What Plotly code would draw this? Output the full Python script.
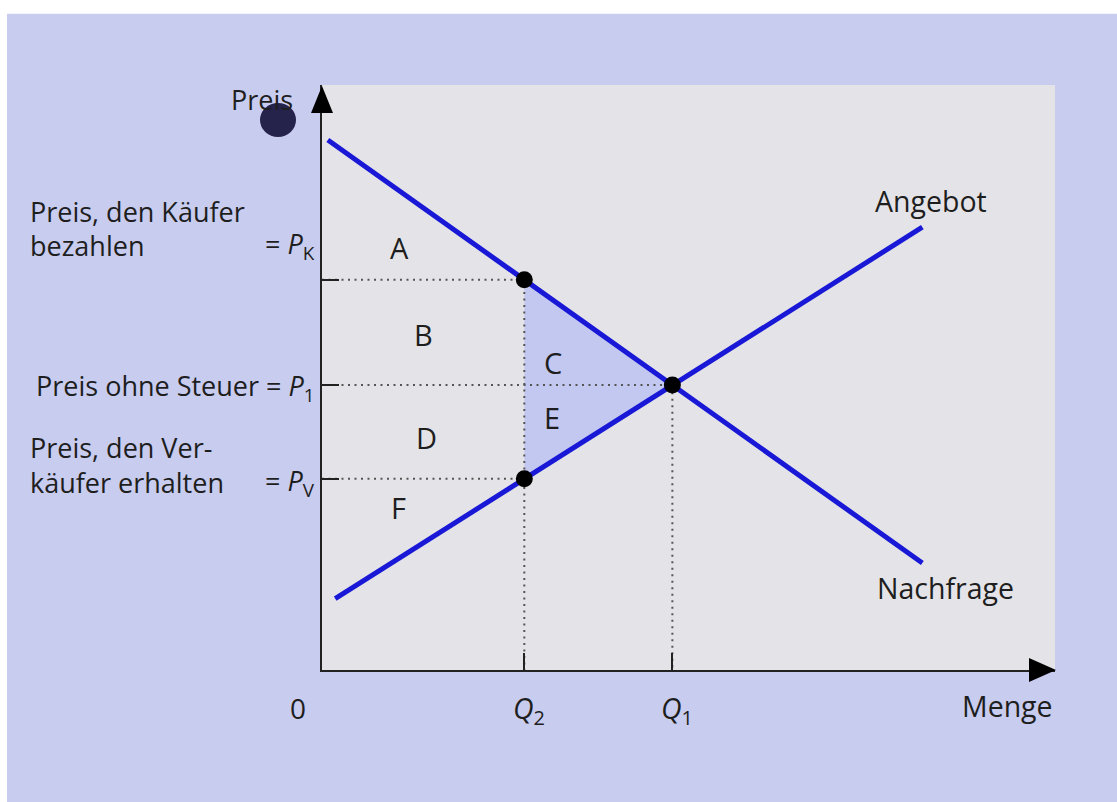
import plotly.graph_objects as go

# Axis extents (quantity, price)
Q_MAX = 10.0
P_MAX = 10.0

# Demand and supply curves (end points)
demand_q = [0.08, 8.19]
demand_p = [9.06, 1.83]
supply_q = [0.18, 8.19]
supply_p = [1.22, 7.57]

# Market without tax and with tax
Q1, P1 = 4.78, 4.87
Q2 = 2.76
PK = 6.67   # price paid by buyers
PV = 3.27   # price received by sellers

# Area letters and their positions
area_labels = ["A", "B", "C", "D", "E", "F"]
area_q = [1.06, 1.38, 3.15, 1.43, 3.14, 1.04]
area_p = [7.23, 5.73, 5.26, 3.98, 4.32, 2.77]

# Curve names
curve_labels = ["Angebot", "Nachfrage"]
curve_label_q = [8.31, 8.51]
curve_label_p = [8.02, 1.40]

BG = "#c8ccef"
PANEL = "#e4e4e8"
SHADE = "#c3c8f0"
BLUE = "#1818d6"
INK = "#1e1e1e"
FONT = "Open Sans"

fig = go.Figure()

# tax revenue triangle C + E
fig.add_trace(go.Scatter(
    x=[Q2, Q1, Q2, Q2], y=[PK, P1, PV, PK], mode="lines", fill="toself",
    fillcolor=SHADE, line=dict(width=0), hoverinfo="skip", showlegend=False))

# dotted guide lines
dot = dict(color="#555555", width=2, dash="2px,4.5px")
fig.add_trace(go.Scatter(x=[0, Q2, Q2], y=[PK, PK, 0], mode="lines", line=dot,
                         hoverinfo="skip", showlegend=False))
fig.add_trace(go.Scatter(x=[0, Q1, Q1], y=[P1, P1, 0], mode="lines", line=dot,
                         hoverinfo="skip", showlegend=False))
fig.add_trace(go.Scatter(x=[0, Q2], y=[PV, PV], mode="lines", line=dot,
                         hoverinfo="skip", showlegend=False))

# demand and supply
fig.add_trace(go.Scatter(x=demand_q, y=demand_p, mode="lines",
                         line=dict(color=BLUE, width=5), name="Nachfrage", showlegend=False))
fig.add_trace(go.Scatter(x=supply_q, y=supply_p, mode="lines",
                         line=dict(color=BLUE, width=5), name="Angebot", showlegend=False))

# market points
fig.add_trace(go.Scatter(x=[Q2, Q1, Q2], y=[PK, P1, PV], mode="markers",
                         marker=dict(color="black", size=17), showlegend=False,
                         hoverinfo="skip"))

ann = []
def txt(text, x, y, size=27, xanchor="center", yanchor="middle", xshift=0, yshift=0):
    ann.append(dict(text=text, x=x, y=y, xref="x", yref="y", showarrow=False,
                    xanchor=xanchor, yanchor=yanchor, xshift=xshift, yshift=yshift,
                    font=dict(family=FONT, size=size, color=INK)))

for lab, q, p in zip(area_labels, area_q, area_p):
    txt(lab, q, p, size=29)
for lab, q, p in zip(curve_labels, curve_label_q, curve_label_p):
    txt(lab, q, p, size=28.5)

# axis titles and quantity labels
txt("Preis", 0, P_MAX, xanchor="right", xshift=-27, yshift=-14)
txt("Menge", Q_MAX, 0, size=28.5, xanchor="right", yshift=-36)
txt("0", 0, 0, size=28, xshift=-24, yshift=-38)
txt("<i>Q</i><sub>2</sub>", Q2, 0, size=28.5, xshift=5, yshift=-40)
txt("<i>Q</i><sub>1</sub>", Q1, 0, size=28.5, xshift=5, yshift=-40)

# price labels on the left
LEFT = -294
txt("Preis, den Käufer", 0, PK, xanchor="left", xshift=LEFT, yshift=68)
txt("bezahlen", 0, PK, xanchor="left", xshift=LEFT, yshift=34)
txt("= <i>P</i><sub>K</sub>", 0, PK, xanchor="right", xshift=-5, yshift=34)
txt("Preis ohne Steuer = <i>P</i><sub>1</sub>", 0, P1, xanchor="right", xshift=-5, yshift=-2)
txt("Preis, den Ver-", 0, PV, xanchor="left", xshift=LEFT, yshift=31)
txt("käufer erhalten", 0, PV, xanchor="left", xshift=LEFT, yshift=-4)
txt("= <i>P</i><sub>V</sub>", 0, PV, xanchor="right", xshift=-5, yshift=-4)

shapes = [
    # arrow heads on both axes
    dict(type="path", xref="paper", yref="paper", xsizemode="pixel", ysizemode="pixel",
         xanchor=0, yanchor=1, path="M-11,-28 L0,-1 L11,-28 Z",
         fillcolor="black", line=dict(width=0)),
    dict(type="path", xref="paper", yref="paper", xsizemode="pixel", ysizemode="pixel",
         xanchor=1, yanchor=0, path="M-26,12 L1,0 L-26,-12 Z",
         fillcolor="black", line=dict(width=0)),
    # page edges
    dict(type="rect", xref="paper", yref="paper", x0=-0.45, x1=1.1, y0=1.122, y1=1.16,
         fillcolor="white", line=dict(width=0), layer="below"),
    dict(type="rect", xref="paper", yref="paper", x0=-0.45, x1=-0.4297, y0=-0.3, y1=1.16,
         fillcolor="white", line=dict(width=0), layer="below"),
    # ink spot beside the price axis
    dict(type="circle", xref="paper", yref="paper", xsizemode="pixel", ysizemode="pixel",
         xanchor=0, yanchor=1, x0=-62, x1=-26, y0=-52, y1=-18,
         fillcolor="#1c1842", line=dict(width=0), opacity=0.95),
]

axis_common = dict(showgrid=False, zeroline=False, showline=True, linecolor="#222222",
                   linewidth=2, ticks="inside", ticklen=17, tickwidth=2,
                   tickcolor="#222222", showticklabels=False, fixedrange=True)

fig.update_layout(
    width=1117, height=802,
    margin=dict(l=322, r=62, t=85, b=132),
    paper_bgcolor=BG, plot_bgcolor=PANEL,
    xaxis=dict(range=[0, Q_MAX], tickvals=[Q2, Q1], **axis_common),
    yaxis=dict(range=[0, P_MAX], tickvals=[PV, P1, PK], **axis_common),
    annotations=ann, shapes=shapes, showlegend=False,
)

fig.write_html("out.html")
